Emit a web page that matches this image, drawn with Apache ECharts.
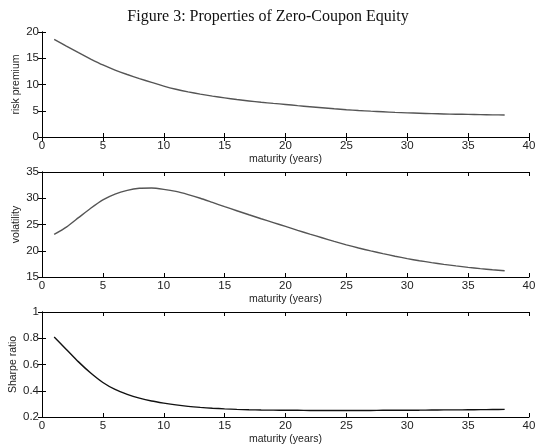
<!DOCTYPE html>
<html>
<head>
<meta charset="utf-8">
<script src="https://cdn.jsdelivr.net/npm/echarts@6/dist/echarts.min.js"></script>
<style>
  html, body { margin: 0; padding: 0; background: #fff; }
  #chart { width: 536px; height: 446px; }
</style>
</head>
<body>
<div id="chart"></div>
<script>
// maturity in years
const maturity = [1, 2, 3, 4, 5, 6, 7, 8, 9, 10, 11, 12, 13, 14, 15, 16, 17, 18, 19, 20,
  21, 22, 23, 24, 25, 26, 27, 28, 29, 30, 31, 32, 33, 34, 35, 36, 37, 38];

// panel 1
const riskPremium = [18.6, 17.3, 16.05, 14.85, 13.72, 12.75, 11.9, 11.12, 10.4, 9.7,
  9.1, 8.6, 8.16, 7.78, 7.45, 7.14, 6.87, 6.62, 6.4, 6.2,
  5.97, 5.76, 5.56, 5.37, 5.2, 5.05, 4.92, 4.8, 4.69, 4.6,
  4.52, 4.45, 4.39, 4.34, 4.3, 4.26, 4.22, 4.19];

// panel 2
const volatility = [23.1, 24.5, 26.3, 28.1, 29.7, 30.8, 31.5, 31.9, 31.95, 31.7,
  31.3, 30.7, 30.0, 29.2, 28.4, 27.62, 26.85, 26.1, 25.36, 24.63,
  23.89, 23.17, 22.47, 21.79, 21.13, 20.53, 19.97, 19.45, 18.96, 18.5,
  18.1, 17.74, 17.41, 17.11, 16.84, 16.6, 16.38, 16.18];

// panel 3
const sharpe = [0.81, 0.715, 0.62, 0.535, 0.463, 0.41, 0.373, 0.344, 0.322, 0.306,
  0.292, 0.281, 0.273, 0.267, 0.262, 0.258, 0.255, 0.253, 0.252, 0.251,
  0.251, 0.25, 0.25, 0.25, 0.25, 0.25, 0.25, 0.251, 0.251, 0.252,
  0.252, 0.253, 0.254, 0.254, 0.255, 0.256, 0.257, 0.258];

const xTicks = [0, 5, 10, 15, 20, 25, 30, 35, 40];
const panels = [
  { name: 'risk premium', data: riskPremium, min: 0, max: 20, step: 5, color: '#555', gap: 20 },
  { name: 'volatility', data: volatility, min: 15, max: 35, step: 5, color: '#555', gap: 20 },
  { name: 'Sharpe ratio', data: sharpe, min: 0.2, max: 1, step: 0.2, color: '#111', gap: 23 }
];
const panelTops = [32, 172, 312];

const font = 'Liberation Sans, Arial, sans-serif';
const ink = '#222';

let grids = [], xAxes = [], yAxes = [], series = [];

panels.forEach(function (p, i) {
  grids.push({ left: 42, right: 7, top: panelTops[i], height: 105, outerBoundsMode: 'none', containLabel: false });

  // bottom axis with labels
  xAxes.push({
    gridIndex: i, type: 'value', min: xTicks[0], max: xTicks[xTicks.length - 1], interval: 5,
    position: 'bottom',
    name: 'maturity (years)', nameLocation: 'middle', nameGap: 17, nameMoveOverlap: false,
    nameTextStyle: { fontFamily: font, fontSize: 10.5, color: ink },
    axisLine: { lineStyle: { color: '#000', width: 1 } },
    axisTick: { inside: true, length: 4, lineStyle: { color: '#000' } },
    axisLabel: { fontFamily: font, fontSize: 11.5, color: ink, margin: 3 },
    splitLine: { show: false }
  });
  // top axis, ticks only
  xAxes.push({
    gridIndex: i, type: 'value', min: xTicks[0], max: xTicks[xTicks.length - 1], interval: 5,
    position: 'top',
    axisLine: { lineStyle: { color: '#000', width: 1 } },
    axisTick: { inside: true, length: 4, lineStyle: { color: '#000' } },
    axisLabel: { show: false },
    splitLine: { show: false }
  });

  yAxes.push({
    gridIndex: i, type: 'value', min: p.min, max: p.max, interval: p.step,
    position: 'left',
    name: p.name, nameLocation: 'middle', nameGap: p.gap, nameMoveOverlap: false,
    nameTextStyle: { fontFamily: font, fontSize: 10.5, color: ink },
    axisLine: { show: true, lineStyle: { color: '#000', width: 1 } },
    axisTick: { show: true, inside: true, length: 4, lineStyle: { color: '#000' } },
    axisLabel: {
      fontFamily: font, fontSize: 11.5, color: ink, margin: 3,
      formatter: function (v) { return p.step < 1 ? String(Math.round(v * 10) / 10) : String(v); }
    },
    splitLine: { show: false }
  });
  yAxes.push({
    gridIndex: i, type: 'value', min: p.min, max: p.max, interval: p.step,
    position: 'right',
    axisLine: { show: true, lineStyle: { color: '#000', width: 1 } },
    axisTick: { show: true, inside: true, length: 4, lineStyle: { color: '#000' } },
    axisLabel: { show: false },
    splitLine: { show: false }
  });

  series.push({
    type: 'line',
    xAxisIndex: i * 2, yAxisIndex: i * 2,
    data: maturity.map(function (m, k) { return [m, p.data[k]]; }),
    showSymbol: false, smooth: 0.2,
    lineStyle: { color: p.color, width: 1.4 },
    animation: false
  });
});

const chart = echarts.init(document.getElementById('chart'));
chart.setOption({
  backgroundColor: '#fff',
  animation: false,
  title: {
    text: 'Figure 3: Properties of Zero-Coupon Equity',
    left: 'center', top: 4,
    textStyle: { fontFamily: 'Liberation Serif, Times New Roman, serif', fontSize: 16, fontWeight: 'normal', color: '#111' }
  },
  grid: grids,
  xAxis: xAxes,
  yAxis: yAxes,
  series: series
});
</script>
</body>
</html>
